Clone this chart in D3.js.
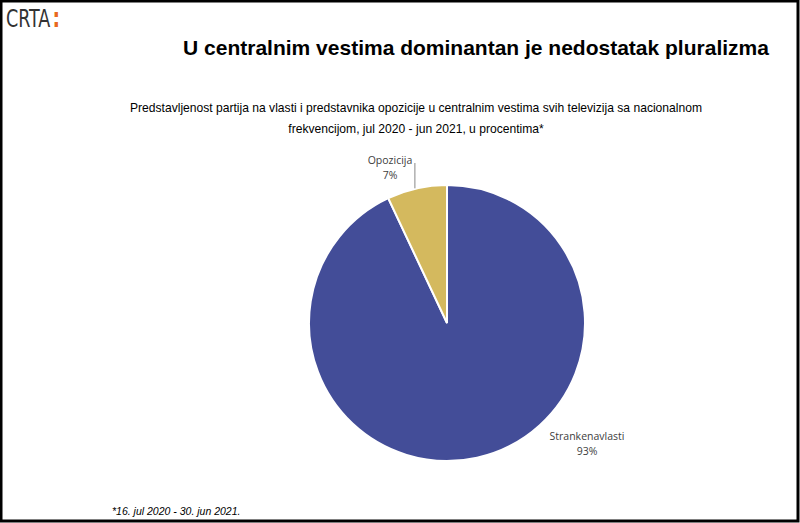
<!DOCTYPE html>
<html>
<head>
<meta charset="utf-8">
<script src="https://cdn.jsdelivr.net/npm/d3@7"></script>
<style>
  body { margin: 0; background: #fff; }
  svg { display: block; }
</style>
</head>
<body>
<div id="chart"></div>
<script>
const width = 800;
const height = 523;

const categories = ["Strankenavlasti", "Opozicija"];
const values = [93, 7];
const colors = ["#434D98", "#D4B95E"];

const svg = d3.select("#chart")
    .append("svg")
    .attr("width", width)
    .attr("height", height);

svg.append("rect")
    .attr("width", width)
    .attr("height", height)
    .attr("fill", "#fff");

// frame
svg.append("rect")
    .attr("x", 1)
    .attr("y", 1)
    .attr("width", width - 3)
    .attr("height", height - 3)
    .attr("fill", "none")
    .attr("stroke", "#000")
    .attr("stroke-width", 3);

// logo (condensed by scaling horizontally)
const logo = svg.append("text")
    .attr("transform", "scale(0.78,1)")
    .attr("x", 6 / 0.78)
    .attr("y", 27)
    .attr("font-family", "'Liberation Sans Narrow', 'DejaVu Sans Condensed', sans-serif")
    .attr("font-size", "25px")
    .attr("fill", "#333");
logo.append("tspan").text("CRTA");
logo.append("tspan")
    .attr("dx", 3)
    .attr("fill", "#E8681E")
    .attr("font-weight", "bold")
    .attr("font-size", "27px")
    .text(":");

// titles
svg.append("text")
    .attr("x", 476)
    .attr("y", 55)
    .attr("text-anchor", "middle")
    .attr("font-family", "Arial, 'Liberation Sans', sans-serif")
    .attr("font-weight", "bold")
    .attr("font-size", "21px")
    .attr("fill", "#000")
    .text("U centralnim vestima dominantan je nedostatak pluralizma");

const sub = svg.append("text")
    .attr("text-anchor", "middle")
    .attr("font-family", "Arial, 'Liberation Sans', sans-serif")
    .attr("font-size", "12.1px")
    .attr("fill", "#000");
sub.append("tspan").attr("x", 416).attr("y", 112)
    .text("Predstavljenost partija na vlasti i predstavnika opozicije u centralnim vestima svih televizija sa nacionalnom");
sub.append("tspan").attr("x", 416).attr("y", 133)
    .text("frekvencijom, jul 2020 - jun 2021, u procentima*");

// pie
const cx = 447, cy = 323, r = 138;
const pie = d3.pie().sort(null).value(d => d);
const arcs = pie(values);
const arc = d3.arc().innerRadius(0).outerRadius(r);

const g = svg.append("g").attr("transform", `translate(${cx},${cy})`);

g.selectAll("path")
    .data(arcs)
    .enter().append("path")
    .attr("d", arc)
    .attr("fill", (d, i) => colors[i])
    .attr("stroke", "#fff")
    .attr("stroke-width", 2);

// labels
const labelFont = "'Open Sans', 'DejaVu Sans', sans-serif";
const labelPos = [
    { x: 140, y: 117 },   // Strankenavlasti, relative to center
    { x: -57, y: -159 }   // Opozicija
];

arcs.forEach((d, i) => {
    const t = g.append("text")
        .attr("text-anchor", "middle")
        .attr("font-family", labelFont)
        .attr("font-size", "10.5px")
        .attr("fill", "#404040");
    t.append("tspan").attr("x", labelPos[i].x).attr("y", labelPos[i].y).text(categories[i]);
    t.append("tspan").attr("x", labelPos[i].x).attr("y", labelPos[i].y + 15).text(values[i] + "%");
});

// leader line for Opozicija
const op = arcs[1];
const mid = (op.startAngle + op.endAngle) / 2;
const px = Math.sin(mid) * r;
const py = -Math.cos(mid) * r;
g.append("line")
    .attr("x1", px - 2)
    .attr("y1", py)
    .attr("x2", px - 2)
    .attr("y2", -160)
    .attr("stroke", "#888")
    .attr("stroke-width", 1);

// footnote
svg.append("text")
    .attr("x", 112)
    .attr("y", 515)
    .attr("font-family", "Arial, 'Liberation Sans', sans-serif")
    .attr("font-style", "italic")
    .attr("font-size", "10.5px")
    .attr("fill", "#000")
    .text("*16. jul 2020 - 30. jun 2021.");
</script>
</body>
</html>
